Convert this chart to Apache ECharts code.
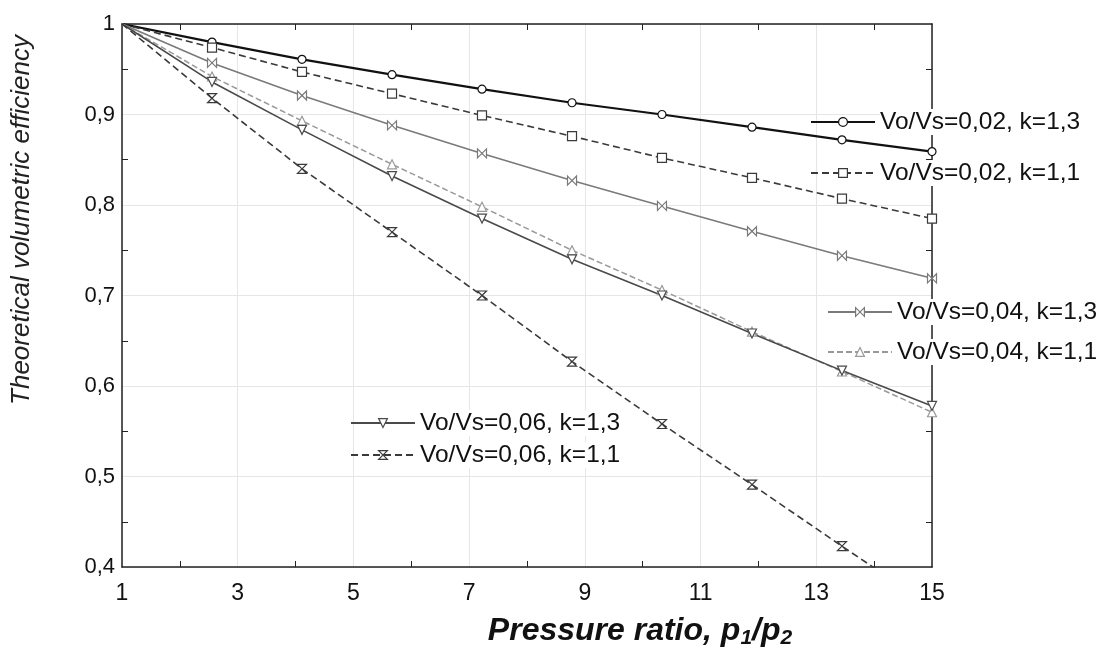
<!DOCTYPE html>
<html><head><meta charset="utf-8">
<script src="https://cdn.jsdelivr.net/npm/echarts@6/dist/echarts.min.js"></script>
<style>html,body{margin:0;padding:0;background:#fff}#c{width:1101px;height:652px}</style>
</head><body><div id="c"></div>
<script>
// Pressure ratio positions of the plotted points
const xValues = [1, 2.556, 4.111, 5.667, 7.222, 8.778, 10.333, 11.889, 13.444, 15];
// Theoretical volumetric efficiency
const eff002k13 = [1, 0.980, 0.961, 0.944, 0.928, 0.913, 0.900, 0.886, 0.872, 0.859];
const eff002k11 = [1, 0.974, 0.947, 0.923, 0.899, 0.876, 0.852, 0.830, 0.807, 0.785];
const eff004k13 = [1, 0.957, 0.921, 0.888, 0.857, 0.827, 0.799, 0.771, 0.744, 0.719];
const eff004k11 = [1, 0.942, 0.893, 0.845, 0.798, 0.750, 0.706, 0.660, 0.616, 0.571];
const eff006k13 = [1, 0.936, 0.883, 0.832, 0.785, 0.740, 0.700, 0.658, 0.617, 0.578];
const eff006k11 = [1, 0.918, 0.840, 0.770, 0.700, 0.627, 0.558, 0.491, 0.423, 0.356];
const seriesNames = ['Vo/Vs=0,02, k=1,3', 'Vo/Vs=0,02, k=1,1', 'Vo/Vs=0,04, k=1,3',
                     'Vo/Vs=0,04, k=1,1', 'Vo/Vs=0,06, k=1,3', 'Vo/Vs=0,06, k=1,1'];
const xTickLabels = ['1','3','5','7','9','11','13','15'];

const FONT = '"Liberation Sans", Arial, sans-serif';
const bowtieH = 'path://M0,0 L10,10 L10,0 L0,10 Z';
const hourglassV = 'path://M0,0 L10,0 L0,10 L10,10 Z';

function mk(name, ys, color, width, type, symbol, size, rotate) {
  return {
    name: name, type: 'line',
    data: xValues.map((x, i) => i === 0 ? { value: [x, ys[i]], symbol: 'none' } : [x, ys[i]]),
    symbol: symbol, symbolSize: size, symbolRotate: rotate || 0,
    showSymbol: true,
    lineStyle: { color: color, width: width, type: type },
    itemStyle: { color: '#fff', borderColor: color, borderWidth: 1.2 },
    emphasis: { disabled: true },
    clip: true, z: 3
  };
}

const series = [
  mk(seriesNames[0], eff002k13, '#111', 2.2, 'solid', 'circle', 8),
  mk(seriesNames[1], eff002k11, '#3a3a3a', 1.6, [7, 4], 'rect', 9),
  mk(seriesNames[2], eff004k13, '#7a7a7a', 1.6, 'solid', bowtieH, 9),
  mk(seriesNames[3], eff004k11, '#999', 1.5, [6, 3], 'triangle', 9),
  mk(seriesNames[4], eff006k13, '#4a4a4a', 1.6, 'solid', 'triangle', 9, 180),
  mk(seriesNames[5], eff006k11, '#3a3a3a', 1.6, [7, 4], hourglassV, 9)
];

function legend(names, left, top, gap) {
  return {
    data: names, left: left, top: top, orient: 'vertical',
    itemWidth: 64, itemHeight: 11, itemGap: gap, padding: 0,
    selectedMode: false,
    itemStyle: { color: '#fff', borderColor: 'inherit', borderWidth: 1.2 },
    textStyle: { fontFamily: FONT, fontSize: 24.5, color: '#111', lineHeight: 26,
                 backgroundColor: '#fff', padding: [0, 2, 0, 0] }
  };
}

const yFmt = v => Math.abs(v - 1) < 1e-9 ? '1' : v.toFixed(1).replace('.', ',');
const axisLine = { show: true, lineStyle: { color: '#222', width: 1.5 } };
const minorTick = { show: true, splitNumber: 2, length: 6, lineStyle: { color: '#222', width: 1 } };

const option = {
  backgroundColor: '#fff',
  animation: false,
  grid: { left: 122, right: 169, top: 24, bottom: 85, containLabel: false },
  legend: [
    legend(seriesNames.slice(0, 2), 810, 109, 25),
    legend(seriesNames.slice(2, 4), 827, 299, 14),
    legend(seriesNames.slice(4, 6), 350, 410, 6)
  ],
  xAxis: [{
    type: 'value', min: 1, max: 15, interval: 2, position: 'bottom',
    axisLine: axisLine,
    axisTick: { show: false, inside: true },
    minorTick: minorTick,
    splitLine: { show: true, lineStyle: { color: '#e6e6e6', width: 1 } },
    axisLabel: { fontFamily: FONT, fontSize: 23, color: '#111', margin: 15,
                 formatter: v => xTickLabels[Math.round((v - 1) / 2)] }
  }, {
    type: 'value', min: 1, max: 15, interval: 2, position: 'top',
    axisLine: axisLine,
    axisTick: { show: false, inside: true },
    minorTick: minorTick,
    splitLine: { show: false },
    axisLabel: { show: false }
  }],
  yAxis: [{
    type: 'value', min: 0.4, max: 1, interval: 0.1, position: 'left',
    axisLine: axisLine,
    axisTick: { show: false, inside: true },
    minorTick: minorTick,
    splitLine: { show: true, lineStyle: { color: '#e6e6e6', width: 1 } },
    axisLabel: { fontFamily: FONT, fontSize: 22, color: '#111', margin: 7, formatter: yFmt }
  }, {
    type: 'value', min: 0.4, max: 1, interval: 0.1, position: 'right',
    axisLine: axisLine,
    axisTick: { show: false, inside: true },
    minorTick: minorTick,
    splitLine: { show: false },
    axisLabel: { show: false }
  }],
  graphic: [{
    type: 'text', x: 22, y: 220, rotation: Math.PI / 2,
    style: { text: 'Theoretical volumetric efficiency', fontFamily: FONT, fontStyle: 'italic',
             fontSize: 26, fill: '#222', align: 'center', verticalAlign: 'middle' }
  }, {
    type: 'text', x: 640, y: 631,
    style: {
      text: '{b|Pressure ratio, p}{s|1}{b|/p}{s|2}',
      align: 'center', verticalAlign: 'middle',
      rich: {
        b: { fontFamily: FONT, fontStyle: 'italic', fontWeight: 'bold', fontSize: 32, fill: '#111', lineHeight: 36 },
        s: { fontFamily: FONT, fontStyle: 'italic', fontWeight: 'bold', fontSize: 21, fill: '#111', lineHeight: 36, padding: [15, 0, 0, 0] }
      }
    }
  }],
  series: series
};

const chart = echarts.init(document.getElementById('c'), null, { renderer: 'canvas' });
chart.setOption(option);
</script>
</body></html>
